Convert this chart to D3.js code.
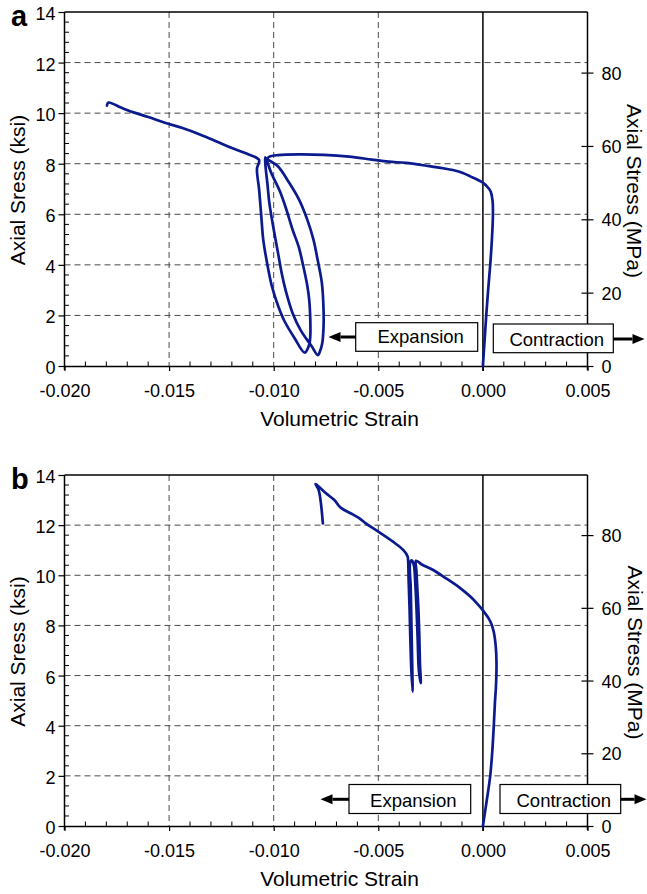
<!DOCTYPE html>
<html><head><meta charset="utf-8">
<script src="https://cdn.jsdelivr.net/npm/d3@7"></script>
<style>
body{margin:0;background:#fff}
svg{display:block}
text{font-family:"Liberation Sans",Arial,Helvetica,sans-serif;fill:#000}
</style>
</head><body>
<svg id="chart" width="647" height="894"></svg>
<script>
// ---- data ----
const strainTicks = [-0.020, -0.015, -0.010, -0.005, 0.000, 0.005];
const ksiTicks = [0, 2, 4, 6, 8, 10, 12, 14];
const mpaTicks = [0, 20, 40, 60, 80];
const panelLabels = ["a", "b"];
const xTitle = "Volumetric Strain";
const yLeftTitle = "Axial Sress (ksi)";
const yRightTitle = "Axial Stress (MPa)";
const expansionLabel = "Expansion";
const contractionLabel = "Contraction";
const KSI_TO_MPA = 6.89476;

// panel a: [volumetric strain, axial stress ksi]
const curveA = [
 [0.0000,0.0],[0.00008,1.0],[0.00016,2.0],[0.00025,3.0],[0.00035,4.0],[0.00043,5.0],[0.00048,6.0],[0.00046,6.55],[0.00038,6.88],[0.00030,7.0],
 [0.0000,7.25],[-0.0006,7.5],[-0.0012,7.7],[-0.0019,7.82],[-0.0027,7.92],[-0.0037,8.03],[-0.0045,8.08],[-0.0053,8.16],[-0.0064,8.28],[-0.0076,8.35],[-0.0088,8.37],[-0.0098,8.34],[-0.0102,8.28],[-0.0103,8.2],
 [-0.0098,7.9],[-0.0093,7.3],[-0.0088,6.6],[-0.0084,5.8],[-0.0081,5.0],[-0.0079,4.2],[-0.0077,3.3],[-0.00762,2.3],[-0.00762,1.5],[-0.00768,0.9],[-0.00778,0.6],[-0.00789,0.43],
 [-0.0082,0.8],[-0.0087,1.4],[-0.0091,2.1],[-0.0094,2.9],[-0.0096,3.6],[-0.0098,4.5],[-0.0100,5.4],[-0.0102,6.4],[-0.0103,7.2],[-0.0104,8.0],[-0.0104,8.25],
 [-0.0101,7.6],[-0.0097,6.9],[-0.0094,6.2],[-0.0091,5.4],[-0.0088,4.7],[-0.0086,4.0],[-0.0084,3.2],[-0.0083,2.6],[-0.00825,1.8],[-0.00825,1.2],[-0.00830,0.85],[-0.00852,0.53],
 [-0.0090,1.1],[-0.0095,1.8],[-0.0098,2.4],[-0.0101,3.2],[-0.0103,4.0],[-0.0105,5.0],[-0.0106,6.0],[-0.0107,7.0],[-0.0108,7.8],[-0.0107,8.15],
 [-0.0113,8.4],[-0.0120,8.62],[-0.0127,8.87],[-0.0135,9.15],[-0.0144,9.42],[-0.0152,9.62],[-0.0160,9.85],[-0.0167,10.03],[-0.0173,10.22],[-0.0179,10.42],[-0.01797,10.3]
];

// panel b
const curveB = [
 [0.0000,0.0],[0.00018,1.0],[0.00035,2.0],[0.00045,3.0],[0.00052,4.0],[0.00058,5.0],[0.00062,5.5],[0.00065,6.5],[0.00061,7.2],[0.00053,7.7],[0.00041,8.05],[0.00026,8.3],[0.0000,8.6],[-0.0002,8.8],[-0.0006,9.15],[-0.0011,9.5],[-0.0018,9.9],[-0.0024,10.22],[-0.0029,10.42],[-0.0032,10.58],
 [-0.00318,10.2],[-0.00313,9.4],[-0.00308,8.6],[-0.00304,7.6],[-0.00301,6.5],[-0.00297,5.7],
 [-0.00306,6.2],[-0.00312,7.5],[-0.00318,8.8],[-0.00324,9.8],[-0.00330,10.4],[-0.00340,10.6],
 [-0.00348,10.5],[-0.00345,9.5],[-0.00342,8.2],[-0.00339,6.9],[-0.00336,5.36],
 [-0.00342,6.2],[-0.00347,7.5],[-0.00351,8.8],[-0.00355,9.8],[-0.00357,10.5],[-0.0036,10.75],
 [-0.0038,11.0],[-0.0043,11.34],[-0.0050,11.74],[-0.0056,12.07],[-0.0059,12.27],[-0.0062,12.42],[-0.0068,12.7],[-0.0071,13.0],[-0.0075,13.27],[-0.0078,13.5],[-0.0080,13.64],[-0.00785,13.4],[-0.00765,12.07]
];

// ---- layout ----
const panels = [
  {label: panelLabels[0], data: curveA, top: 12, bottom: 366, rightTitleX: 627,
   exp: {x: 355.7, y: 322.7, w: 122, h: 28.6, tx: 420.7, ty: 343.3, ax: 328.5, ay: 337},
   con: {x: 493.3, y: 324, w: 120, h: 28.7, tx: 556.7, ty: 345.7, ax: 644.5, ay: 339}},
  {label: panelLabels[1], data: curveB, top: 475, bottom: 826, rightTitleX: 627.5,
   exp: {x: 349, y: 784.5, w: 121.7, h: 29, tx: 413.3, ty: 806.7, ax: 320.5, ay: 799.3},
   con: {x: 500, y: 784.5, w: 120.7, h: 29, tx: 563.8, ty: 806.7, ax: 646.5, ay: 799.3}}
];
const L = 64.5, R = 587.5;
const svg = d3.select("#chart");
const lineColor = "#0b1a8c";
const gridColor = "#4a4a4a";

function arrow(g, x1, x2, y) {
  const dir = Math.sign(x2 - x1);
  const headLen = 12, headW = 5;
  g.append("line").attr("x1", x1).attr("x2", x2 - dir * headLen).attr("y1", y).attr("y2", y)
    .attr("stroke", "#000").attr("stroke-width", 3);
  g.append("path").attr("d", `M${x2},${y} L${x2 - dir*headLen},${y - headW} L${x2 - dir*headLen},${y + headW} Z`)
    .attr("fill", "#000");
}

panels.forEach(p => {
  const x = d3.scaleLinear().domain([strainTicks[0], strainTicks[strainTicks.length-1]]).range([L, R]);
  const y = d3.scaleLinear().domain([0, 14]).range([p.bottom, p.top]);
  const yM = d3.scaleLinear().domain([0, 14 * KSI_TO_MPA]).range([p.bottom, p.top]);
  const g = svg.append("g");

  // grid
  const gx = strainTicks.filter(v => v > strainTicks[0] + 1e-9 && v < -1e-9);
  g.selectAll(".vg").data(gx).join("line")
    .attr("x1", d => x(d)).attr("x2", d => x(d)).attr("y1", p.top).attr("y2", p.bottom)
    .attr("stroke", gridColor).attr("stroke-width", 1).attr("stroke-dasharray", "6,4");
  const gy = ksiTicks.filter(v => v > 0 && v < 14);
  g.selectAll(".hg").data(gy).join("line")
    .attr("x1", L).attr("x2", R).attr("y1", d => y(d)).attr("y2", d => y(d))
    .attr("stroke", gridColor).attr("stroke-width", 1).attr("stroke-dasharray", "6,4");

  // zero strain line
  g.append("line").attr("x1", x(0)).attr("x2", x(0)).attr("y1", p.top).attr("y2", p.bottom + 5)
    .attr("stroke", "#000").attr("stroke-width", 1.5);

  // frame top
  g.append("line").attr("x1", L).attr("x2", R).attr("y1", p.top).attr("y2", p.top).attr("stroke", "#000").attr("stroke-width", 1.5);

  // minor ticks
  const minorX = d3.range(-0.020, 0.0050001, 0.001).filter(v => Math.abs(Math.round(v / 0.005) * 0.005 - v) > 1e-7);
  g.selectAll(".mx").data(minorX).join("line")
    .attr("x1", d => x(d)).attr("x2", d => x(d)).attr("y1", p.bottom).attr("y2", p.bottom - 4.5)
    .attr("stroke", "#000").attr("stroke-width", 1);
  const minorY = d3.range(0, 14.0001, 0.4).filter(v => Math.abs(Math.round(v / 2) * 2 - v) > 1e-6);
  g.selectAll(".my").data(minorY).join("line")
    .attr("x1", L).attr("x2", L + 4.5).attr("y1", d => y(d)).attr("y2", d => y(d))
    .attr("stroke", "#000").attr("stroke-width", 1);

  // axes
  const ax = g.append("g").attr("transform", `translate(0,${p.bottom})`)
    .call(d3.axisBottom(x).tickValues(strainTicks).tickFormat(d => d.toFixed(3)).tickSize(5).tickPadding(13).tickSizeOuter(0));
  const al = g.append("g").attr("transform", `translate(${L},0)`)
    .call(d3.axisLeft(y).tickValues(ksiTicks).tickSize(6).tickPadding(3).tickSizeOuter(0));
  const ar = g.append("g").attr("transform", `translate(${R},0)`)
    .call(d3.axisRight(yM).tickValues(mpaTicks).tickSize(6).tickPadding(8).tickSizeOuter(0));
  ar.selectAll(".tick line").attr("x1", -6);
  [ax, al, ar].forEach(a => {
    a.select(".domain").attr("stroke", "#000").attr("stroke-width", 1.5);
    a.selectAll(".tick line").attr("stroke", "#000").attr("stroke-width", 1.2);
    a.selectAll("text").attr("font-size", 18).attr("font-family", '"Liberation Sans",Arial,sans-serif').attr("fill", "#000");
  });
  al.selectAll("text").attr("dy", "0.42em");
  ar.selectAll("text").attr("dy", "0.36em");
  al.select(".domain").attr("d", `M0,${p.bottom + 4}V${p.top}`);
  ar.select(".domain").attr("d", `M0,${p.bottom + 4}V${p.top}`);

  // curve
  const line = d3.line().x(d => x(d[0])).y(d => y(d[1])).curve(d3.curveCatmullRom.alpha(0.5));
  g.append("path").datum(p.data).attr("d", line).attr("fill", "none")
    .attr("stroke", lineColor).attr("stroke-width", 2.7).attr("stroke-linejoin", "round").attr("stroke-linecap", "round");

  // annotation boxes
  [p.exp, p.con].forEach((b, i) => {
    g.append("rect").attr("x", b.x).attr("y", b.y).attr("width", b.w).attr("height", b.h)
      .attr("fill", "#fff").attr("stroke", "#000").attr("stroke-width", 1.2);
    g.append("text").attr("x", b.tx).attr("y", b.ty).attr("text-anchor", "middle").attr("font-size", 18.5)
      .text(i === 0 ? expansionLabel : contractionLabel);
    if (i === 0) arrow(g, b.x, b.ax, b.ay); else arrow(g, b.x + b.w, b.ax, b.ay);
  });

  // titles
  g.append("text").attr("x", 339.5).attr("y", p.bottom + 60).attr("text-anchor", "middle").attr("font-size", 21).text(xTitle);
  g.append("text").attr("transform", `translate(25,${(p.top + p.bottom) / 2 + 1}) rotate(-90)`)
    .attr("text-anchor", "middle").attr("font-size", 21).text(yLeftTitle);
  g.append("text").attr("transform", `translate(${p.rightTitleX},${(p.top + p.bottom) / 2 + 2}) rotate(90)`)
    .attr("text-anchor", "middle").attr("font-size", 21).text(yRightTitle);
  g.append("text").attr("x", 11).attr("y", p.top + 14).attr("font-size", 29).attr("font-weight", "bold").text(p.label);
});
</script>
</body></html>
